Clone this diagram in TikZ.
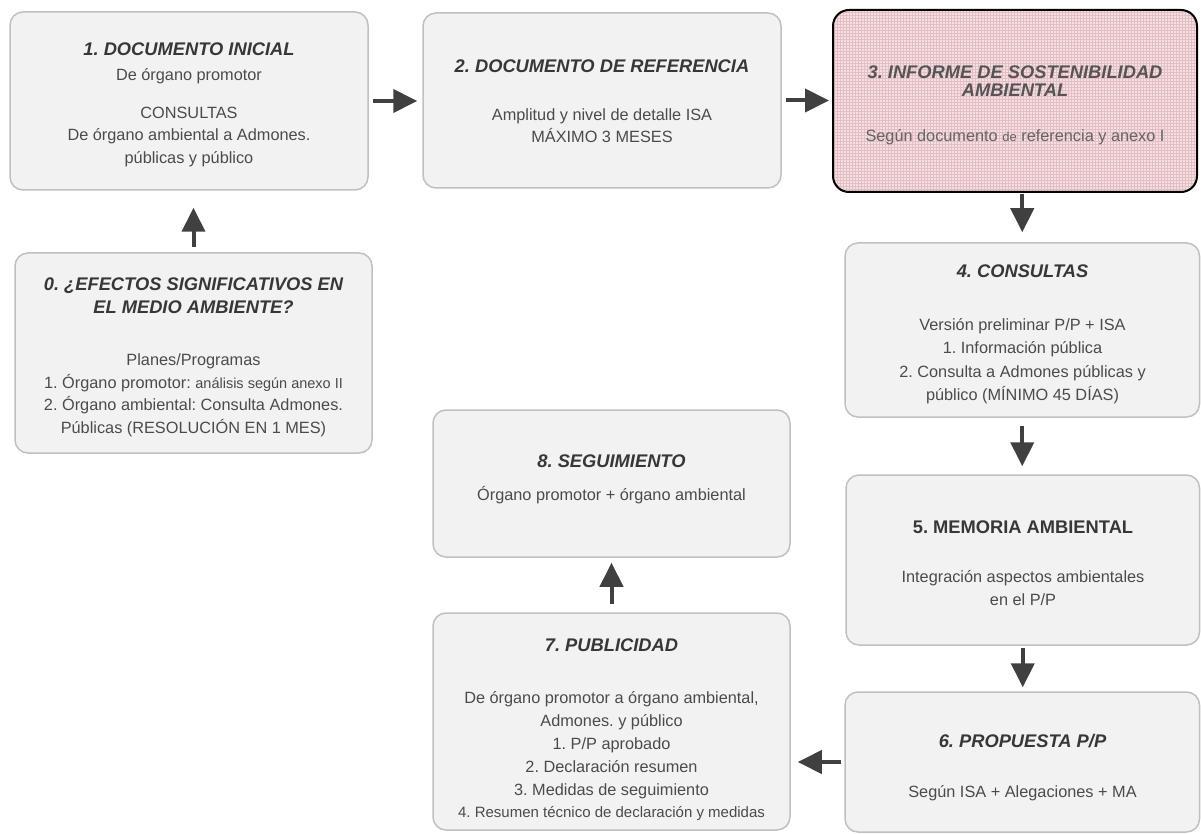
\documentclass[tikz,border=0pt]{standalone}
\usepackage{fontspec}
\setmainfont{Liberation Sans}
\usetikzlibrary{arrows.meta,patterns}
\definecolor{boxfill}{RGB}{242,242,242}
\definecolor{boxline}{RGB}{192,192,192}
\definecolor{titlecol}{RGB}{55,55,55}
\definecolor{bodycol}{RGB}{75,75,75}
\definecolor{arrcol}{RGB}{64,64,64}
\definecolor{pinkfill}{RGB}{244,224,224}
\definecolor{pinkgrid}{RGB}{228,190,196}
\definecolor{title3}{RGB}{85,85,85}
\definecolor{body3}{RGB}{100,100,100}
\newcommand{\boxttl}[1]{{\color{titlecol}\fontsize{18.3}{22}\selectfont\bfseries\itshape #1}}
\newcommand{\boxttlu}[1]{{\color{titlecol}\fontsize{18.3}{22}\selectfont\bfseries #1}}
\newcommand{\boxttlc}[1]{{\color{title3}\fontsize{18.3}{22}\selectfont\bfseries\itshape #1}}
\newcommand{\smalltxt}[1]{{\fontsize{14.5}{22}\selectfont #1}}
\newcommand{\firststrut}{\rule{0pt}{15pt}}
\newcommand{\bodyfont}{\fontsize{16.3}{22}\selectfont}
\tikzset{
  box/.style={draw=boxline, line width=1.5pt, fill=boxfill, rounded corners=13pt, inner sep=0pt},
  boxthree/.style={draw=black, line width=2pt, rounded corners=16pt, preaction={fill=pinkfill}, pattern=grid, pattern color=pinkgrid, inner sep=0pt},
  txt/.style={anchor=north, align=center, inner sep=0pt, text=bodycol, font=\bodyfont},
  arr/.style={draw=arrcol, line width=4pt, -{Triangle[length=24pt,width=23pt]}}
}
\begin{document}
\frenchspacing
\lineskiplimit=-100pt
\begin{tikzpicture}[x=1pt,y=-1pt]
\useasboundingbox (0,0) rectangle (1201,834);
% boxes
\node[box, minimum width=358pt, minimum height=178pt] (n1) at (189,101) {};
\node[box, minimum width=358pt, minimum height=175pt] (n2) at (602,100.5) {};
\node[boxthree, minimum width=364pt, minimum height=182pt] (n3) at (1015,101) {};
\node[box, minimum width=357pt, minimum height=200pt] (n0) at (193.5,353) {};
\node[box, minimum width=354.5pt, minimum height=174pt] (n4) at (1022.25,330) {};
\node[box, minimum width=353.5pt, minimum height=170pt] (n5) at (1022.75,560) {};
\node[box, minimum width=354.5pt, minimum height=140pt] (n6) at (1022.25,762) {};
\node[box, minimum width=357pt, minimum height=147pt] (n8) at (611.5,483.5) {};
\node[box, minimum width=357pt, minimum height=217pt] (n7) at (611.5,721.5) {};
% texts
\node[txt] (t1) at (189,40) {\firststrut\boxttl{1. DOCUMENTO INICIAL}\\[3pt]
  De órgano promotor\\[16pt]
  CONSULTAS\\
  De órgano ambiental a Admones.\\[1pt]
  públicas y público};
\node[txt] (t2) at (602,57) {\firststrut\boxttl{2. DOCUMENTO DE REFERENCIA}\\[26pt]
  Amplitud y nivel de detalle ISA\\
  MÁXIMO 3 MESES};
\node[txt, text=body3] (t3) at (1015,63.3) {\firststrut\boxttlc{3. INFORME DE SOSTENIBILIDAD}\\[-3.6pt]
  \boxttlc{AMBIENTAL}\\[23pt]
  Según documento {\fontsize{13}{22}\selectfont de} referencia y anexo I};
\node[txt] (t0) at (193.5,275) {\firststrut\boxttl{0. ¿EFECTOS SIGNIFICATIVOS EN}\\[1pt]
  \boxttl{EL MEDIO AMBIENTE?}\\[30pt]
  Planes/Programas\\[1pt]
  1. Órgano promotor: \smalltxt{análisis según anexo II}\\
  2. Órgano ambiental: Consulta Admones.\\[1pt]
  Públicas (RESOLUCIÓN EN 1 MES)};
\node[txt] (t4) at (1022.5,262) {\firststrut\boxttl{4. CONSULTAS}\\[31pt]
  Versión preliminar P/P + ISA\\[1pt]
  1. Información pública\\[2pt]
  2. Consulta a Admones públicas y\\[1pt]
  público (MÍNIMO 45 DÍAS)};
\node[txt] (t5) at (1023,518) {\firststrut\boxttlu{5. MEMORIA AMBIENTAL}\\[27pt]
  Integración aspectos ambientales\\[1pt]
  en el P/P};
\node[txt] (t6) at (1022.5,732) {\firststrut\boxttl{6. PROPUESTA P/P}\\[28pt]
  Según ISA + Alegaciones + MA};
\node[txt] (t8) at (611.5,452) {\firststrut\boxttl{8. SEGUIMIENTO}\\[11pt]
  Órgano promotor + órgano ambiental};
\node[txt] (t7) at (611.5,636.5) {\firststrut\boxttl{7. PUBLICIDAD}\\[30pt]
  De órgano promotor a órgano ambiental,\\[1pt]
  Admones. y público\\[1pt]
  1. P/P aprobado\\[1pt]
  2. Declaración resumen\\[1pt]
  3. Medidas de seguimiento\\
  {\fontsize{15}{22}\selectfont 4. Resumen técnico de declaración y medidas}};
% arrows
\draw[arr, shorten <=5pt, shorten >=17pt] (n0.north) -- (n1.south -| n0.north);
\draw[arr, shorten <=4pt, shorten >=5pt] (n1.east) -- (n1.east -| n2.west);
\draw[arr, shorten <=4pt, shorten >=3pt] (n2.east) -- (n2.east -| n3.west);
\draw[arr, shorten <=1pt, shorten >=10pt] (n3.south -| n4.north) -- (n4.north);
\draw[arr, shorten <=8pt, shorten >=8pt] (n4.south) -- (n5.north -| n4.south);
\draw[arr, shorten <=2pt, shorten >=4pt] (n5.south) -- (n6.north -| n5.south);
\draw[arr, shorten <=3pt, shorten >=7pt] (n6.west) -- (n6.west -| n7.east);
\draw[arr, shorten <=8pt, shorten >=5pt] (n7.north) -- (n8.south);
\end{tikzpicture}
\end{document}
